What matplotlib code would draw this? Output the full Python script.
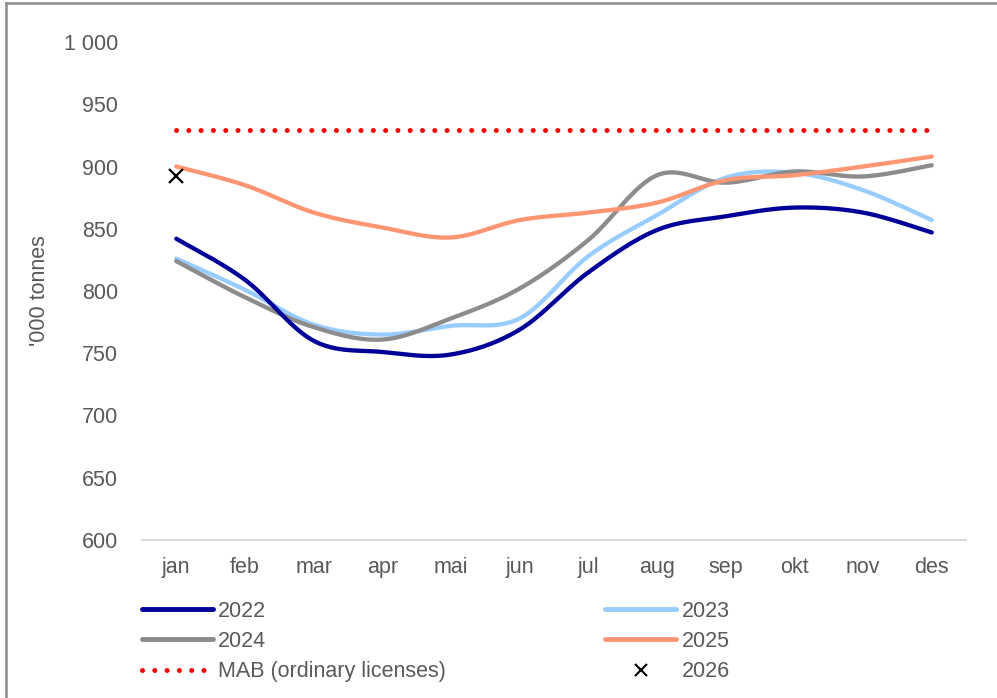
import matplotlib
matplotlib.use("Agg")
import matplotlib.pyplot as plt
from matplotlib.lines import Line2D
import numpy as np

months = ['jan', 'feb', 'mar', 'apr', 'mai', 'jun', 'jul', 'aug', 'sep', 'okt', 'nov', 'des']
y2022 = [842, 809, 760, 751, 749, 769, 815, 849, 860, 867, 863, 847]
y2023 = [826, 801, 773, 765, 772, 778, 828, 861, 891, 895, 881, 857]
y2024 = [824, 795, 771, 761, 778, 802, 841, 893, 887, 896, 892, 901]
y2025 = [900, 885, 863, 851, 843, 857, 863, 871, 889, 893, 900, 908]
mab = [929] * 12
y2026 = [892]

plt.rcParams['font.family'] = ['Liberation Sans', 'DejaVu Sans']
txt = '#595959'


def smooth(y, n=30):
    # excel style smoothed line (catmull-rom through the points)
    y = np.asarray(y, dtype=float)
    x = np.arange(len(y), dtype=float)
    xp = np.concatenate([[x[0]], x, [x[-1]]])
    yp = np.concatenate([[y[0]], y, [y[-1]]])
    xs, ys = [], []
    for i in range(1, len(xp) - 2):
        p0, p1, p2, p3 = [np.array([xp[j], yp[j]]) for j in (i - 1, i, i + 1, i + 2)]
        c1 = p1 + (p2 - p0) / 6
        c2 = p2 - (p3 - p1) / 6
        t = np.linspace(0, 1, n)[:, None]
        b = (1 - t) ** 3 * p1 + 3 * (1 - t) ** 2 * t * c1 + 3 * (1 - t) * t ** 2 * c2 + t ** 3 * p2
        xs.extend(b[:, 0]); ys.extend(b[:, 1])
    return np.array(xs), np.array(ys)


fig = plt.figure(figsize=(9.97, 6.98), dpi=100)
ax = fig.add_axes([0.1424, 0.2264, 0.8266, 0.7134])

x = np.arange(len(months))
ax.plot(x, mab, color='#FF0000', lw=3.6, linestyle=(0, (0.01, 2.45)),
        dash_capstyle='round', zorder=2)
ax.plot(*smooth(y2022), color='#000099', lw=3.1, solid_capstyle='round', zorder=5)
ax.plot(*smooth(y2023), color='#99CCFF', lw=3.1, solid_capstyle='round', zorder=3)
ax.plot(*smooth(y2024), color='#8C8C8C', lw=3.1, solid_capstyle='round', zorder=4)
ax.plot(*smooth(y2025), color='#FF9673', lw=3.1, solid_capstyle='round', zorder=6)
ax.plot(x[:len(y2026)], y2026, linestyle='none', marker='x', color='black',
        ms=10, mew=1.6, zorder=7)

ax.set_xlim(-0.5, 11.5)
ax.set_ylim(600, 1000)
ax.set_xticks(x)
ax.set_xticklabels(months)
ticks = np.arange(600, 1001, 50)
ax.set_yticks(ticks)
ax.set_yticklabels([f'{t:,}'.replace(',', ' ') for t in ticks])
ax.tick_params(length=0, labelsize=15.5, colors=txt)
ax.tick_params(axis='y', pad=17)
ax.tick_params(axis='x', pad=12)
for s in ['top', 'right', 'left']:
    ax.spines[s].set_visible(False)
ax.spines['bottom'].set_color('#D9D9D9')
ax.spines['bottom'].set_linewidth(1.5)
ax.set_ylabel("'000 tonnes", fontsize=15.5, color=txt, labelpad=10)

handles = [
    Line2D([], [], color='#000099', lw=3.5, solid_capstyle='round'),
    Line2D([], [], color='#8C8C8C', lw=3.5, solid_capstyle='round'),
    Line2D([], [], color='#FF0000', lw=3.6, linestyle=(0, (0.01, 2.45)), dash_capstyle='round'),
    Line2D([], [], color='#99CCFF', lw=3.5, solid_capstyle='round'),
    Line2D([], [], color='#FF9673', lw=3.5, solid_capstyle='round'),
    Line2D([], [], linestyle='none', marker='x', color='black', ms=8, mew=1.5),
]
labels = ['2022', '2024', 'MAB (ordinary licenses)', '2023', '2025', '2026']
leg = fig.legend(handles, labels, ncol=2, loc='upper left', bbox_to_anchor=(0.142, 0.139),
                 frameon=False, fontsize=15.5, handlelength=3.3, handletextpad=0.25,
                 columnspacing=7.4, labelspacing=0.42, borderaxespad=0, borderpad=0)
for t in leg.get_texts():
    t.set_color(txt)

# outer chart border (left and top edges visible)
fig.add_artist(Line2D([0.0065, 0.0065], [0, 0.995], transform=fig.transFigure,
                      color='#8C8C8C', lw=1.8))
fig.add_artist(Line2D([0.0065, 1], [0.995, 0.995], transform=fig.transFigure,
                      color='#8C8C8C', lw=1.8))

plt.savefig('out.png', dpi=100)
